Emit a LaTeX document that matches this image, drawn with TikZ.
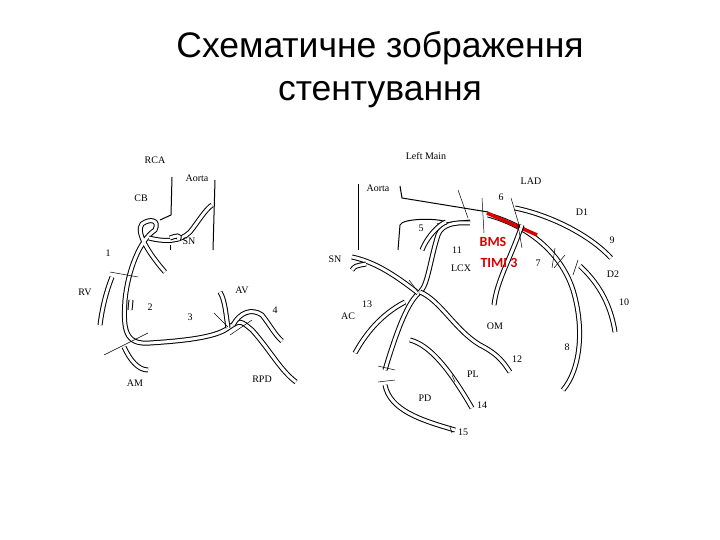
\documentclass[tikz,border=0pt]{standalone}
\usepackage{fontspec}
\setmainfont{Liberation Serif}
\newfontfamily\titlefont{Liberation Sans}
\newfontfamily\redfont{Carlito}
\begin{document}
\begin{tikzpicture}[x=1pt,y=-1pt,
  vessel/.style={draw=black,line width=1pt,double=white,double distance=3pt},
  thin/.style={draw=black,line width=1pt},
  tick/.style={draw=black,line width=0.5pt},
  lab/.style={font=\fontsize{10}{11}\selectfont,inner sep=0pt},
  ttl/.style={font=\titlefont\fontsize{35.5}{38}\selectfont,inner sep=0pt}]
\useasboundingbox (0,0) rectangle (720,540);
\node[ttl] (t1) at (380,48) {Схематичне зображення};
\node[ttl] (t2) at (380,95) {стентування};
% ---------- left diagram (RCA)
\node[lab] (rca) at (155,160) {RCA};
\node[lab] (aol) at (197,178) {Aorta};
\draw[thin] (215,180) -- (213,250);
\draw[thin] (172,177) -- (171,215) -- (160,220);
\draw[vessel] (165,272) .. controls (150,255) and (135,232) .. (142,224) .. controls (150,218) and (160,220) .. (155,230) .. controls (140,240) and (128,270) .. (125,300) .. controls (123,330) and (125,345) .. (150,343) .. controls (180,341) and (215,338) .. (228,328) .. controls (240,320) .. (252,330) .. controls (270,350) and (280,370) .. (296,382);
\draw[vessel] (149,238) .. controls (165,242) and (180,242) .. (190,232) .. controls (198,222) and (205,210) .. (212,205);
\draw[vessel] (170,238) .. controls (175,236) and (182,234) .. (178,240);
\draw[vessel] (228,328) .. controls (226,315) and (225,300) .. (220,292);
\draw[vessel] (233,325) .. controls (240,312) and (252,308) .. (262,315) .. controls (270,325) and (275,335) .. (282,341);
\draw[vessel] (112,277) .. controls (105,295) and (102,310) .. (100,325);
\draw[vessel] (124,347) .. controls (130,360) and (138,370) .. (148,370);
\draw[vessel] (130,310) -- (131,300);
\draw[tick] (110,272) -- (138,277);
\draw[tick] (104,355) -- (148,333);
\draw[tick] (214,313) -- (228,327);
\draw[tick] (230,335) -- (252,320);
\draw[tick] (170,245) -- (170,250);
\node[lab] (cb) at (141,198) {CB};
\node[lab] (n1) at (108,253) {1};
\node[lab] (rv) at (85,292) {RV};
\node[lab] (n2) at (150,307) {2};
\node[lab] (n3) at (190,317) {3};
\node[lab] (av) at (242,290) {AV};
\node[lab] (n4) at (275,310) {4};
\node[lab] (am) at (135,383) {AM};
\node[lab] (rpd) at (262,379) {RPD};
\node[lab] (sn1) at (189,241) {SN};
% ---------- right diagram (left coronary)
\node[lab] (lm) at (426,156) {Left Main};
\node[lab] (lad) at (531,181) {LAD};
\node[lab] (aor) at (378,188) {Aorta};
\draw[thin] (358,184) -- (358,250);
\draw[thin] (400,186) -- (402,198) -- (488,212);
\draw[vessel] (488,215) .. controls (525,225) and (560,250) .. (573,290) .. controls (585,330) and (580,370) .. (563,390);
\draw[line width=3.5pt,red!85!black] (487,213) -- (537,235);
\draw[vessel] (515,208) .. controls (550,215) and (590,235) .. (611,258);
\draw[vessel] (580,266) .. controls (595,280) and (610,300) .. (615,332);
\draw[thin] (398,250) -- (400,225) .. controls (402,218) and (440,218) .. (445,222);
\draw[thin] (437,224) -- (470,220);
\draw[vessel] (470,223) .. controls (455,222) and (442,224) .. (438,235) .. controls (430,260) and (428,285) .. (420,292) .. controls (410,300) and (400,320) .. (385,370);
\draw[vessel] (446,222) .. controls (440,224) and (428,235) .. (422,250);
\draw[vessel] (420,292) .. controls (440,300) and (455,330) .. (480,345) .. controls (500,355) and (505,365) .. (510,372);
\draw[vessel] (352,257) .. controls (375,262) and (395,275) .. (418,293);
\draw[vessel] (366,264) .. controls (355,266) .. (352,270);
\draw[vessel] (405,302) .. controls (380,315) and (365,335) .. (355,353);
\draw[vessel] (410,340) .. controls (430,345) and (450,370) .. (472,408);
\draw[vessel] (385,385) .. controls (390,410) and (420,420) .. (455,430);
\draw[vessel] (522,225) .. controls (510,260) and (497,280) .. (494,305);
\draw[tick] (458,190) -- (468,218);
\draw[tick] (482,198) -- (484,233);
\draw[tick] (511,198) -- (520,228);
\draw[tick] (518,225) -- (522,248);
\draw[tick] (555,248) -- (552,268);
\draw[tick] (565,255) -- (554,268);
\draw[tick] (578,260) -- (573,275);
\draw[tick] (409,280) -- (418,292);
\draw[tick] (378,366) -- (395,370);
\draw[tick] (378,382) -- (395,380);
\draw[tick] (452,375) -- (455,382);
\draw[tick] (450,427) -- (452,433);
\node[lab] (n6) at (501,197) {6};
\node[lab] (d1) at (582,212) {D1};
\node[lab] (n5) at (421,228) {5};
\node[lab] (n9) at (612,240) {9};
\node[lab] (n11) at (457,250) {11};
\node[lab,text=red!85!black,font=\redfont\bfseries\fontsize{14}{15}\selectfont] (bms) at (493,242) {BMS};
\node[lab,text=red!85!black,font=\redfont\bfseries\fontsize{14}{15}\selectfont] (timi) at (499,263) {TIMI 3};
\node[lab] (lcx) at (461,268) {LCX};
\node[lab] (n7) at (538,263) {7};
\node[lab] (d2) at (613,274) {D2};
\node[lab] (sn2) at (335,259) {SN};
\node[lab] (n13) at (367,304) {13};
\node[lab] (ac) at (348,316) {AC};
\node[lab] (n10) at (624,302) {10};
\node[lab] (om) at (495,326) {OM};
\node[lab] (n8) at (567,347) {8};
\node[lab] (n12) at (517,359) {12};
\node[lab] (pl) at (473,374) {PL};
\node[lab] (pd) at (425,398) {PD};
\node[lab] (n14) at (482,405) {14};
\node[lab] (n15) at (463,432) {15};
\end{tikzpicture}
\end{document}
